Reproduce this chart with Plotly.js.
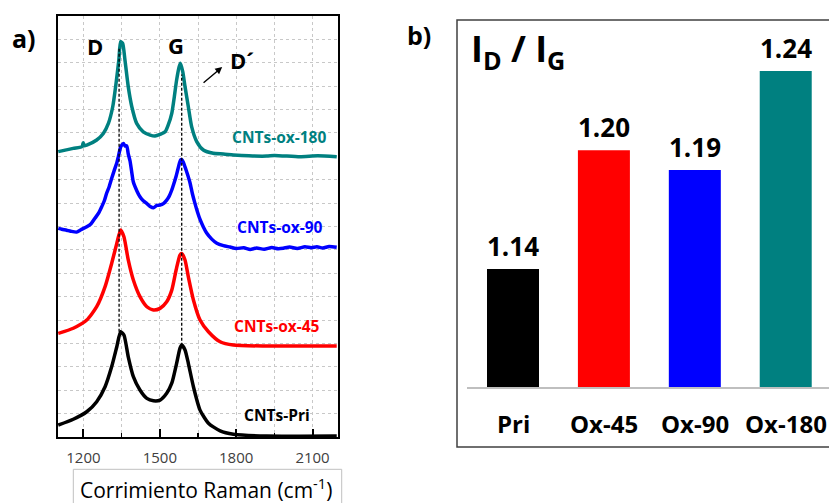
<!DOCTYPE html>
<html>
<head>
<meta charset="utf-8">
<script src="https://cdn.plot.ly/plotly-3.0.1.min.js"></script>
<style>
html,body{margin:0;padding:0;background:#fff;}
#chart{width:829px;height:503px;}
</style>
</head>
<body>
<div id="chart"></div>
<script>
// ---------- Panel a: Raman spectra (offset intensities) ----------
const priX = [1101,1160,1213,1252,1285,1311,1331,1346,1359,1376,1396,1422,1449,1475,1501,1527,1547,1566,1579,1586,1599,1612,1632,1658,1691,1737,1789,1920,2195];
const priY = [0.51,0.76,1.08,1.51,2.15,3.01,3.86,4.50,4.36,3.43,2.58,2.01,1.65,1.55,1.58,1.87,2.30,3.15,3.79,3.93,3.72,3.15,2.15,1.15,0.59,0.26,0.12,0.04,0.04];

const ox45X = [1101,1160,1213,1252,1285,1311,1331,1346,1359,1376,1396,1422,1449,1475,1501,1527,1547,1564,1579,1586,1599,1612,1632,1658,1691,1737,1789,1920,2195];
const ox45Y = [4.43,4.65,5.00,5.57,6.43,7.43,8.28,8.85,8.56,7.57,6.71,6.00,5.57,5.43,5.50,5.78,6.28,7.14,7.78,7.85,7.57,6.85,5.86,5.00,4.50,4.07,3.93,3.89,3.89];

const ox90X = [1101,1115,1134,1150,1173,1190,1213,1230,1245,1260,1272,1282,1291,1301,1311,1321,1331,1337,1346,1352,1357,1364,1370,1376,1383,1390,1396,1410,1422,1435,1449,1462,1475,1488,1501,1514,1527,1537,1547,1556,1564,1571,1577,1582,1586,1592,1599,1609,1619,1628,1638,1648,1658,1671,1684,1704,1724,1750,1776,1800,1830,1855,1880,1910,1940,1965,1985,2010,2040,2070,2095,2117,2140,2165,2195];
const ox90Y = [8.92,8.88,8.84,8.80,8.76,8.86,8.99,9.12,9.35,9.58,9.85,10.10,10.42,10.70,11.06,11.40,11.72,11.98,12.40,12.50,12.55,12.44,12.45,12.10,11.80,11.30,10.90,10.52,10.27,10.10,9.98,9.86,9.80,9.90,9.92,9.98,10.13,10.30,10.56,10.86,11.15,11.45,11.70,11.85,11.86,11.76,11.55,11.22,10.85,10.40,9.99,9.62,9.30,8.98,8.72,8.46,8.28,8.18,8.12,8.06,8.09,8.02,8.08,8.03,8.10,8.05,8.07,8.12,8.06,8.13,8.09,8.13,8.08,8.14,8.11];

const ox180X = [1101,1160,1195,1199,1203,1213,1252,1278,1298,1315,1328,1339,1346,1354,1363,1376,1390,1409,1435,1462,1481,1501,1521,1533,1547,1557,1566,1576,1581,1590,1599,1612,1625,1645,1671,1710,1750,1789,1850,1920,1950,2050,2120,2195];
const ox180Y = [12.20,12.34,12.42,12.58,12.45,12.48,12.70,12.98,13.41,14.12,15.12,16.12,16.90,16.83,16.12,14.98,14.12,13.41,13.05,12.91,12.87,12.94,13.05,13.34,13.84,14.55,15.26,15.83,15.98,15.62,14.98,14.12,13.27,12.63,12.27,12.13,12.10,12.06,12.02,12.01,12.04,11.98,12.02,11.98];

const seriesNames  = ["CNTs-Pri", "CNTs-ox-45", "CNTs-ox-90", "CNTs-ox-180"];
const seriesColors = ["#000000", "#ff0000", "#0000ff", "#008080"];
const labelX = [1961, 1961, 1972, 1969];
const labelY = [0.94, 4.75, 8.98, 12.83];

// Peak guide lines (D and G bands)
const peakNames  = ["D", "G"];
const peakX      = [1340, 1586];
const peakTop    = [16.6, 15.5];
const peakBottom = [4.5, 3.9];
const peakLabelX = [1247, 1564];
const peakLabelY = [16.70, 16.78];

// ---------- Panel b: ID/IG ratio ----------
const barCategories = ["Pri", "Ox-45", "Ox-90", "Ox-180"];
const barValues     = [1.14, 1.20, 1.19, 1.24];
const barColors     = ["#000000", "#ff0000", "#0000ff", "#008080"];

const FONT = "Open Sans, Noto Sans, sans-serif";
const W = 829, H = 503;
const px = v => v / W;
const py = v => 1 - v / H;

const xs = [priX, ox45X, ox90X, ox180X];
const ys = [priY, ox45Y, ox90Y, ox180Y];

const traces = [];
for (let i = 0; i < 4; i++) {
  traces.push({
    type: "scatter", mode: "lines",
    x: xs[i], y: ys[i],
    name: seriesNames[i],
    line: {color: seriesColors[i], width: 3.5, shape: "spline", smoothing: 0.6},
    xaxis: "x", yaxis: "y", hoverinfo: "skip"
  });
}
traces.push({
  type: "bar",
  x: barCategories, y: barValues,
  marker: {color: barColors},
  width: 0.572,
  xaxis: "x2", yaxis: "y2", hoverinfo: "skip"
});

const shapes = [];
for (let i = 0; i < peakX.length; i++) {
  shapes.push({type: "line", xref: "x", yref: "y",
    x0: peakX[i], x1: peakX[i], y0: peakBottom[i], y1: peakTop[i],
    line: {color: "#000", width: 1.3, dash: "3px,2px"}});
}
// panel b frame
shapes.push({type: "rect", xref: "paper", yref: "paper",
  x0: px(457), x1: 1.01, y0: py(447), y1: py(20),
  line: {color: "#404040", width: 1.5}});
// x-axis title box of panel a
shapes.push({type: "rect", xref: "paper", yref: "paper",
  x0: px(73.3), x1: px(341.7), y0: -0.05, y1: py(469.3),
  line: {color: "#c0c0c0", width: 1}});

const annotations = [];
for (let i = 0; i < 4; i++) {
  annotations.push({xref: "x", yref: "y", x: labelX[i], y: labelY[i],
    text: "<b>" + seriesNames[i] + "</b>", showarrow: false,
    xanchor: "center", yanchor: "middle",
    font: {family: FONT, size: 15.5, color: seriesColors[i]}});
}
for (let i = 0; i < peakNames.length; i++) {
  annotations.push({xref: "x", yref: "y", x: peakLabelX[i], y: peakLabelY[i],
    text: "<b>" + peakNames[i] + "</b>", showarrow: false,
    xanchor: "center", yanchor: "middle",
    font: {family: FONT, size: 22, color: "#000"}});
}
annotations.push({xref: "x", yref: "y", x: 1768, y: 16.12,
  text: "<b>D´</b>", showarrow: false, xanchor: "left", yanchor: "middle",
  font: {family: FONT, size: 22, color: "#000"}});
annotations.push({xref: "x", yref: "y", x: 1745, y: 15.82, ax: 1666, ay: 15.09,
  axref: "x", ayref: "y", text: "", showarrow: true,
  arrowhead: 2, arrowsize: 1, arrowwidth: 1.4, arrowcolor: "#000"});
annotations.push({xref: "paper", yref: "paper", x: px(24), y: py(38),
  text: "<b>a)</b>", showarrow: false, xanchor: "center", yanchor: "middle",
  font: {family: FONT, size: 25, color: "#000"}});
annotations.push({xref: "paper", yref: "paper", x: px(419), y: py(35),
  text: "<b>b)</b>", showarrow: false, xanchor: "center", yanchor: "middle",
  font: {family: FONT, size: 25, color: "#000"}});
annotations.push({xref: "paper", yref: "paper", x: px(206), y: py(488),
  text: "Corrimiento Raman (cm<sup>-1</sup>)", showarrow: false,
  xanchor: "center", yanchor: "middle",
  font: {family: FONT, size: 21, color: "#000"}});
annotations.push({xref: "paper", yref: "paper", x: px(469), y: py(50),
  text: "<b>I<sub>D</sub> / I<sub>G</sub></b>", showarrow: false,
  xanchor: "left", yanchor: "middle",
  font: {family: FONT, size: 36, color: "#000"}});
for (let i = 0; i < barCategories.length; i++) {
  annotations.push({xref: "x2", yref: "y2", x: barCategories[i], y: barValues[i],
    text: "<b>" + barValues[i].toFixed(2) + "</b>", showarrow: false,
    xanchor: "center", yanchor: "middle", yshift: 23,
    font: {family: FONT, size: 26, color: "#000"}});
  annotations.push({xref: "x2", yref: "paper", x: barCategories[i], y: py(423),
    text: "<b>" + barCategories[i] + "</b>", showarrow: false,
    xanchor: "center", yanchor: "middle",
    font: {family: FONT, size: 24, color: "#000"}});
}

const layout = {
  width: W, height: H,
  margin: {l: 0, r: 0, t: 0, b: 0},
  paper_bgcolor: "#fff", plot_bgcolor: "#fff",
  showlegend: false,
  font: {family: FONT, color: "#000"},
  xaxis: {
    domain: [px(58), px(338)], anchor: "y",
    range: [1100, 2200], tick0: 1200, dtick: 300,
    ticks: "inside", ticklen: 8, tickwidth: 2, tickcolor: "#000",
    showline: true, mirror: true, linecolor: "#000", linewidth: 2,
    showgrid: true, gridcolor: "#c8c8c8", griddash: "dot", gridwidth: 1,
    zeroline: false, ticklabelstandoff: 6,
    tickfont: {family: FONT, size: 15, color: "#404040"},
    minor: {dtick: 150, tick0: 1200, ticks: "inside", ticklen: 4, tickwidth: 1.5,
            tickcolor: "#000", showgrid: true, gridcolor: "#c8c8c8", griddash: "dot", gridwidth: 1}
  },
  yaxis: {
    domain: [py(437), py(16)], anchor: "x",
    range: [0, 18], dtick: 1, showticklabels: false, ticks: "",
    showline: true, mirror: true, linecolor: "#000", linewidth: 2,
    showgrid: true, gridcolor: "#c8c8c8", griddash: "dot", gridwidth: 1,
    zeroline: false
  },
  xaxis2: {
    domain: [px(467), 1], anchor: "y2", type: "category",
    range: [-0.506, 3.476],
    showline: true, linecolor: "#bfbfbf", linewidth: 1.5,
    showticklabels: false, ticks: "", showgrid: false, zeroline: false
  },
  yaxis2: {
    domain: [py(387), py(20)], anchor: "x2",
    range: [1.0804, 1.2658], visible: false
  },
  shapes: shapes,
  annotations: annotations
};

Plotly.newPlot("chart", traces, layout, {staticPlot: true, displayModeBar: false});
</script>
</body>
</html>
